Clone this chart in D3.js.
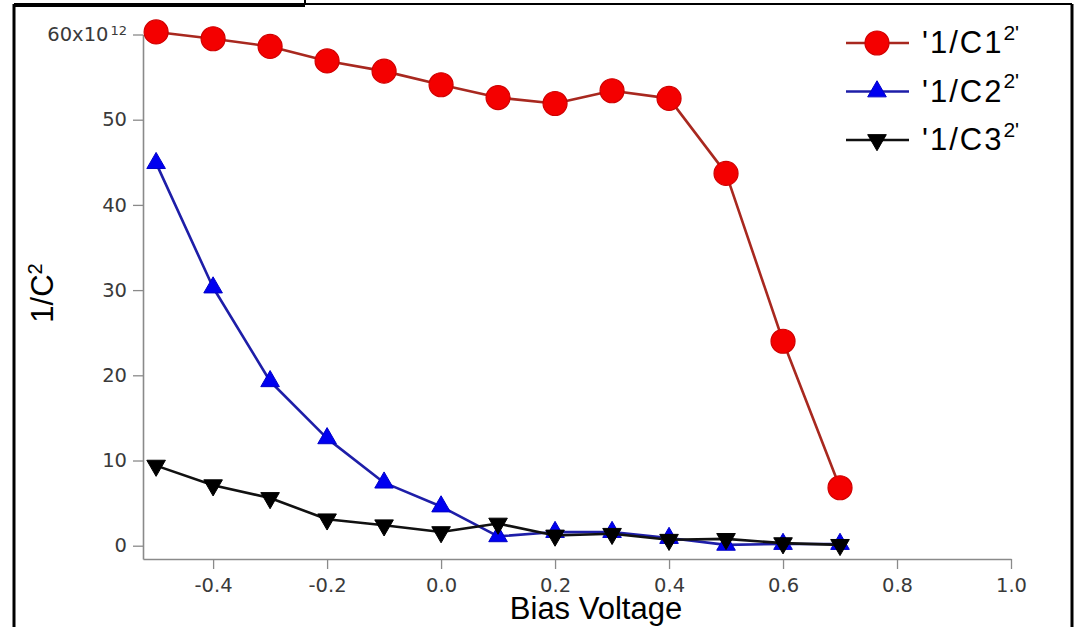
<!DOCTYPE html>
<html>
<head>
<meta charset="utf-8">
<script src="https://cdn.jsdelivr.net/npm/d3@7"></script>
<style>
  html, body { margin: 0; padding: 0; background: #fff; }
  svg { display: block; }
</style>
</head>
<body>
<svg id="chart" width="1077" height="627"></svg>
<script>
// ---- data ----
const voltages = [-0.5, -0.4, -0.3, -0.2, -0.1, 0.0, 0.1, 0.2, 0.3, 0.4, 0.5, 0.6, 0.7];
const invC1sq = [60.3, 59.5, 58.6, 56.9, 55.7, 54.1, 52.6, 51.9, 53.4, 52.5, 43.7, 24.0, 6.8]; // x1e12
const invC2sq = [44.9, 30.3, 19.3, 12.6, 7.4, 4.6, 1.1, 1.6, 1.6, 0.9, 0.1, 0.2, 0.2];
const invC3sq = [9.4, 7.1, 5.6, 3.1, 2.4, 1.6, 2.6, 1.2, 1.4, 0.7, 0.8, 0.3, 0.1];
const seriesNames = ["'1/C1", "'1/C2", "'1/C3"];
const xTickValues = [-0.4, -0.2, 0.0, 0.2, 0.4, 0.6, 0.8, 1.0];
const xTickLabels = ["-0.4", "-0.2", "0.0", "0.2", "0.4", "0.6", "0.8", "1.0"];
const yTickValues = [0, 10, 20, 30, 40, 50, 60];
const yTickLabels = ["0", "10", "20", "30", "40", "50", "60x10"];
const xTitle = "Bias Voltage";

const svg = d3.select("#chart");
const W = 1077, H = 627;

// frame
svg.append("rect").attr("x", 0).attr("y", 0).attr("width", W).attr("height", H).attr("fill", "#fff");
const frame = svg.append("g").attr("stroke", "#000").attr("fill", "none");
frame.append("line").attr("x1", 14).attr("x2", 1072).attr("y1", 4).attr("y2", 4).attr("stroke-width", 2);
frame.append("line").attr("x1", 14).attr("x2", 305).attr("y1", 5.5).attr("y2", 5.5).attr("stroke-width", 3);
frame.append("line").attr("x1", 305).attr("x2", 305).attr("y1", 0).attr("y2", 4).attr("stroke-width", 2);
frame.append("line").attr("x1", 14).attr("x2", 14).attr("y1", 4).attr("y2", H).attr("stroke-width", 3);
frame.append("line").attr("x1", 1072).attr("x2", 1072).attr("y1", 4).attr("y2", H).attr("stroke-width", 3);

// scales
const x = d3.scaleLinear().domain([-0.523, 1.0]).range([143, 1011]);
const y = d3.scaleLinear().domain([-1.56, 60]).range([559, 34.5]);

const tickFont = "DejaVu Sans, Verdana, sans-serif";
const axisColor = "#8a8a8a";
const tickSizePx = 19.5;

// x axis
const xAxis = d3.axisBottom(x)
  .tickValues(xTickValues)
  .tickFormat((d, i) => xTickLabels[i])
  .tickSize(10).tickSizeOuter(0).tickPadding(9);
const gx = svg.append("g").attr("transform", "translate(0,559)").call(xAxis);
gx.select(".domain").attr("stroke", axisColor).attr("stroke-width", 1.6);
gx.selectAll(".tick line").attr("stroke", axisColor).attr("stroke-width", 1.3);
gx.selectAll(".tick text").attr("font-family", tickFont).attr("font-size", tickSizePx).attr("fill", "#3a3a3a");

// y axis
const yAxis = d3.axisLeft(y)
  .tickValues(yTickValues)
  .tickFormat((d, i) => yTickLabels[i])
  .tickSize(10).tickSizeOuter(0).tickPadding(6);
const gy = svg.append("g").attr("transform", "translate(143,0)").call(yAxis);
gy.select(".domain").attr("stroke", axisColor).attr("stroke-width", 1.6);
gy.selectAll(".tick line").attr("stroke", axisColor).attr("stroke-width", 1.3);
gy.selectAll(".tick text").attr("font-family", tickFont).attr("font-size", tickSizePx).attr("fill", "#3a3a3a");
// exponent on top tick
gy.selectAll(".tick text").filter((d) => d === 60).each(function () {
  const t = d3.select(this);
  t.append("tspan").attr("dy", "-0.5em").attr("dx", 2).attr("font-size", 13).text("12");
});

// axis titles
const titleFont = "Liberation Sans, Arial, sans-serif";
svg.append("text")
  .attr("x", 596).attr("y", 619)
  .attr("text-anchor", "middle")
  .attr("font-family", titleFont).attr("font-size", 31).attr("fill", "#000")
  .text(xTitle);

const yt = svg.append("text")
  .attr("transform", "translate(53,293) rotate(-90)")
  .attr("text-anchor", "middle")
  .attr("font-family", titleFont).attr("font-size", 31).attr("fill", "#000");
yt.append("tspan").text("1/C");
yt.append("tspan").attr("dy", "-0.55em").attr("font-size", 20).text("2");

// series
const series = [
  { name: seriesNames[1], values: invC2sq, line: "#1e1ea8", fill: "#0000f0", stroke: "#0000c8", sym: "up" },
  { name: seriesNames[2], values: invC3sq, line: "#111", fill: "#000", stroke: "#000", sym: "down" },
  { name: seriesNames[0], values: invC1sq, line: "#a8281f", fill: "#f40000", stroke: "#d00000", sym: "circle" }
];

const lineGen = d3.line().x((d) => x(d[0])).y((d) => y(d[1]));

function drawMarker(g, s, cx, cy) {
  if (s.sym === "circle") {
    g.append("circle").attr("cx", cx).attr("cy", cy).attr("r", 12)
      .attr("fill", s.fill).attr("stroke", s.stroke).attr("stroke-width", 1.2);
  } else {
    const path = d3.symbol().type(d3.symbolTriangle).size(150)();
    g.append("path").attr("d", path)
      .attr("transform", `translate(${cx},${cy})` + (s.sym === "down" ? " rotate(180)" : ""))
      .attr("fill", s.fill).attr("stroke", s.stroke).attr("stroke-width", 1);
  }
}

series.forEach((s) => {
  const pts = voltages.map((v, i) => [v, s.values[i]]);
  const g = svg.append("g");
  g.append("path").datum(pts).attr("d", lineGen)
    .attr("fill", "none").attr("stroke", s.line).attr("stroke-width", 2.6)
    .attr("stroke-linejoin", "round");
  pts.forEach((p) => drawMarker(g, s, x(p[0]), y(p[1])));
});

// legend
const legendOrder = [series[2], series[0], series[1]];
const lg = svg.append("g");
legendOrder.forEach((s, i) => {
  const cy = 43 + i * 48.5;
  lg.append("line").attr("x1", 846).attr("x2", 909).attr("y1", cy).attr("y2", cy)
    .attr("stroke", s.line).attr("stroke-width", 2.6);
  drawMarker(lg, s, 877, cy);
  const t = lg.append("text").attr("x", 922).attr("y", cy + 10)
    .attr("font-family", titleFont).attr("font-size", 31).attr("letter-spacing", 2).attr("fill", "#000");
  t.append("tspan").text(s.name);
  t.append("tspan").attr("dy", "-0.62em").attr("font-size", 21).attr("letter-spacing", 0).text("2'");
});
</script>
</body>
</html>
